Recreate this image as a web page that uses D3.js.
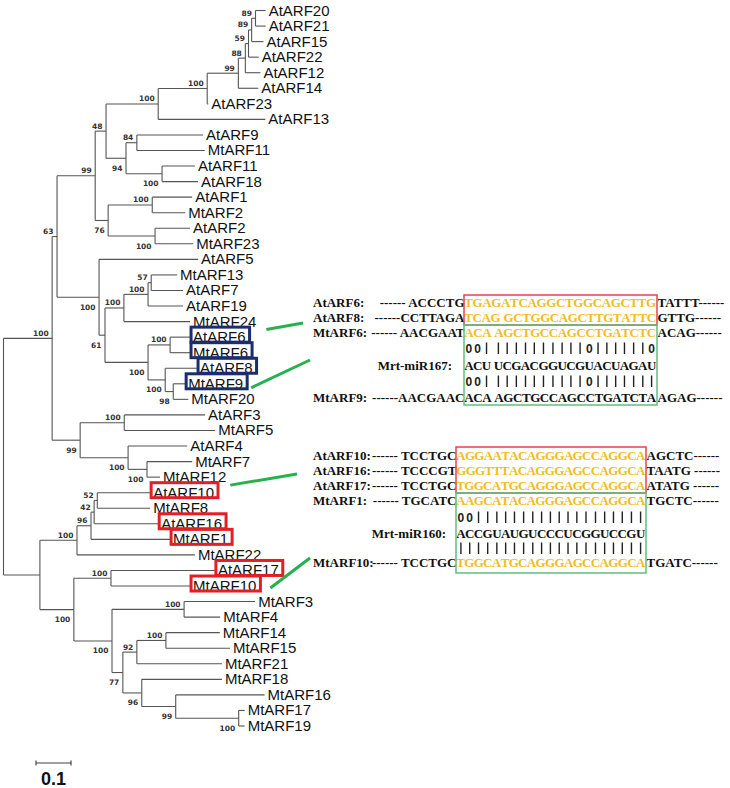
<!DOCTYPE html>
<html><head><meta charset="utf-8">
<script src="https://cdn.jsdelivr.net/npm/d3@7"></script>
<style>
body{margin:0;background:#fff}
.leaf{font-family:"Liberation Sans",Arial,sans-serif;font-size:15px;fill:#111}
.bs{font-family:"DejaVu Sans",sans-serif;font-size:7.5px;font-weight:bold;fill:#333}
.seq{font-family:"Liberation Serif","Times New Roman",serif;font-size:13px;font-weight:bold;fill:#111}
.pr{font-family:"Liberation Sans",Arial,sans-serif;font-size:12px;font-weight:bold;fill:#222}
</style>
</head><body><svg id="c" width="730" height="788"></svg>
<script>
// ---------- tree data (Newick clades: name:branch length, internal label = bootstrap) ----------
const cladeAtARF20 = "(((((((AtARF20:0.029,AtARF21:0.029)89:0.011,AtARF15:0.034)89:0.009,AtARF22:0.029)59:0.009,AtARF12:0.043)88:0.02,AtARF14:0.057)99:0.089,AtARF23:0.003)100:0.14,AtARF13:0.306)100";
const cladeAtARF9 = "((AtARF9:0.189,MtARF11:0.194)84:0.031,(AtARF11:0.094,AtARF18:0.103)100:0.103)94";
const cladeAtARF1 = "((AtARF1:0.114,MtARF2:0.094)100:0.126,(AtARF2:0.1,MtARF23:0.109)100:0.134)76";
const cladeAtARF5 = "(AtARF5:0.283,((((MtARF13:0.074,AtARF7:0.091)57:0.009,AtARF19:0.1)100:0.069,MtARF24:0.189)100:0.054,((AtARF6:0.057,MtARF6:0.057)100:0.063,(AtARF8:0.091,(MtARF9:0.034,MtARF20:0.043)98:0.023)100:0.049)100:0.123)61:0.017)100";
const cladeAtARF3 = "((AtARF3:0.231,MtARF5:0.26)100:0.126,(AtARF4:0.169,(MtARF7:0.129,MtARF12:0.037)100:0.054)100:0.137)99";
const cladeAtARF10 = "((((AtARF10:0.151,MtARF8:0.151)52:0.009,AtARF16:0.183)42:0.009,MtARF1:0.226)96:0.04,MtARF22:0.337)100";
const cladeAtARF17 = "((AtARF17:0.297,MtARF10:0.226)100:0.106,((MtARF3:0.203,MtARF4:0.103)100:0.206,(((MtARF14:0.154,MtARF15:0.183)100:0.083,MtARF21:0.243)92:0.04,(MtARF18:0.229,(MtARF16:0.254,(MtARF17:0.017,MtARF19:0.017)100:0.18)99:0.097)96:0.054)77:0.031)100:0.109)100";
const newick = `(((((${cladeAtARF20}:0.149,${cladeAtARF9}:0.057)48:0.031,${cladeAtARF1}:0.037)99:0.109,${cladeAtARF5}:0.12)63:0.014,${cladeAtARF3}:0.08)100:0.139,(${cladeAtARF10}:0.106,${cladeAtARF17}:0.097):0.104);`;

const scaleBarValue = 0.1;
const blueBoxed = ["AtARF6","MtARF6","AtARF8","MtARF9"];
const redBoxed = ["AtARF10","AtARF16","MtARF1","AtARF17","MtARF10"];
// bootstrap labels drawn below the branch (node = first leaf|last leaf)
const bsBelow = ["AtARF9|AtARF18","AtARF11|AtARF18","AtARF1|MtARF23","AtARF2|MtARF23","AtARF5|MtARF20",
  "MtARF13|MtARF20","AtARF6|MtARF20","AtARF8|MtARF20","MtARF9|MtARF20","AtARF3|MtARF12","AtARF4|MtARF12",
  "MtARF7|MtARF12","AtARF17|MtARF19","MtARF3|MtARF19","MtARF14|MtARF19","MtARF18|MtARF19","MtARF16|MtARF19","MtARF17|MtARF19"];

// ---------- alignment data ----------
const mir167Label = "Mrt-miR167:";
const mir167 = "ACU UCGACGGUCGUACUAGAU";
const mir167Targets = [
  {label:"AtARF6:", left:"------  ACCCTG", core:"TGAGATCAGGCTGGCAGCTTG", right:"TATTT------", hl:true},
  {label:"AtARF8:", left:"------CCTTAGA", core:"TCAG GCTGGCAGCTTGTATTC", right:"GTTG------", hl:true},
  {label:"MtARF6:", left:"------ AACGAAT", core:"ACA AGCTGCCAGCCTGATCTC", right:"ACAG------", hl:true}
];
const mir167PairsUp = "00|||||||||||0||||||0";
const mir167PairsDown = "00|||||||||||0|||||||";
const mir167Below = {label:"MtARF9:", left:"------AACGAAC", core:"ACA AGCTGCCAGCCTGATCTA", right:"AGAG------", hl:false};

const mir160Label = "Mrt-miR160:";
const mir160 = "ACCGUAUGUCCCUCGGUCCGU";
const mir160Targets = [
  {label:"AtARF10:", left:"------ TCCTGC", core:"AGGAATACAGGGAGCCAGGCA", right:"AGCTC------", hl:true},
  {label:"AtARF16:", left:"------ TCCCGT", core:"GGGTTTACAGGGAGCCAGGCA", right:"TAATG ------", hl:true},
  {label:"AtARF17:", left:"------ TCCTGC", core:"TGGCATGCAGGGAGCCAGGCA", right:"ATATG ------", hl:true},
  {label:"MtARF1:", left:"------ TGCATC", core:"AAGCATACAGGGAGCCAGGCA", right:"TGCTC------", hl:true}
];
const mir160PairsUp = "00|||||||||||||||||||";
const mir160PairsDown = "|||||||||||||||||||||";
const mir160Below = {label:"MtARF10:", left:"------ TCCTGC", core:"TGGCATGCAGGGAGCCAGGCA", right:"TGATC------", hl:true};

// ---------- parse ----------
function parseNewick(s){
  let i=0;
  function node(){
    const n={children:[]};
    if(s[i]==='('){
      i++; n.children.push(node());
      while(s[i]===','){i++; n.children.push(node());}
      i++;
    }
    let name='';
    while(i<s.length && !',():;'.includes(s[i])) name+=s[i++];
    if(n.children.length) n.support=name; else n.name=name;
    n.length=0;
    if(s[i]===':'){ i++; let l=''; while(i<s.length && !',();'.includes(s[i])) l+=s[i++]; n.length=+l; }
    return n;
  }
  return node();
}

const svg = d3.select('#c');
const root = d3.hierarchy(parseNewick(newick), d => d.children.length ? d.children : null);
root.eachBefore(d => { d.len = d.parent ? d.parent.len + d.data.length : 0; });
const leaves = root.leaves();
const yS = d3.scaleLinear().domain([0, leaves.length-1]).range([10.5, 726]);
const xS = d3.scaleLinear().domain([0, 0.1]).range([3.5, 38.5]);
leaves.forEach((l,i)=> l.py = yS(i));
root.eachAfter(d => {
  if(d.children) d.py = (d.children[0].py + d.children[d.children.length-1].py)/2;
  d.px = xS(d.len);
});

// branches
const gT = svg.append('g').attr('stroke','#555').attr('stroke-width',1.1).attr('fill','none');
root.descendants().forEach(d => {
  if(d.parent) gT.append('line').attr('x1',d.parent.px).attr('x2',d.px).attr('y1',d.py).attr('y2',d.py);
  if(d.children) gT.append('line').attr('x1',d.px).attr('x2',d.px)
      .attr('y1',d.children[0].py).attr('y2',d.children[d.children.length-1].py);
});

// bootstrap labels
root.descendants().filter(d => d.children && d.data.support).forEach(d => {
  const lv = d.leaves();
  const key = lv[0].data.name + '|' + lv[lv.length-1].data.name;
  const below = bsBelow.includes(key);
  svg.append('text').attr('class','bs').attr('text-anchor','end')
    .attr('x', d.px - 3.5).attr('y', below ? d.py + 12.5 : d.py - 2.5).text(d.data.support);
});

// leaf labels
const leafText = {};
leaves.forEach(d => {
  leafText[d.data.name] = {node:d, el: svg.append('text').attr('class','leaf').attr('x', d.px + 3).attr('y', d.py + 5).text(d.data.name)};
});
function boxLeaf(name, color){
  const t = leafText[name]; const b = t.el.node().getBBox();
  svg.append('rect').attr('x', b.x - 2).attr('y', t.node.py - 10).attr('width', b.width + 6).attr('height', 15)
    .attr('fill','none').attr('stroke',color).attr('stroke-width',3);
}
blueBoxed.forEach(n => boxLeaf(n,'#1c2d6b'));
redBoxed.forEach(n => boxLeaf(n,'#e31e24'));

// scale bar
const sb0 = 36, sb1 = sb0 + (xS(scaleBarValue) - xS(0));
const gS = svg.append('g').attr('stroke','#444').attr('stroke-width',1.2);
gS.append('line').attr('x1',sb0).attr('x2',sb1).attr('y1',763).attr('y2',763);
gS.append('line').attr('x1',sb0).attr('x2',sb0).attr('y1',760.5).attr('y2',765.5);
gS.append('line').attr('x1',sb1).attr('x2',sb1).attr('y1',760.5).attr('y2',765.5);
svg.append('text').attr('x',(sb0+sb1)/2).attr('y',785).attr('text-anchor','middle')
  .style('font-family','"Liberation Sans",Arial,sans-serif').style('font-size','18px').style('font-weight','bold')
  .attr('fill','#111').text(String(scaleBarValue));

// ---------- alignments ----------
const YELLOW = '#f2bd1d';
const meas = svg.append('text').attr('class','seq').attr('x',-100).attr('y',-100);
function charW(ch){ meas.text(ch===' ' ? '\u00a0' : ch); return meas.node().getComputedTextLength(); }
function drawCore(str, x0, width, y, fill){
  const ws = [...str].map(charW); const k = width / d3.sum(ws);
  let x = x0; const centers = [];
  [...str].forEach((ch,i) => {
    const w = ws[i]*k;
    if(ch !== ' '){
      svg.append('text').attr('class','seq').attr('x', x + w/2).attr('y', y + 4.5).attr('text-anchor','middle')
        .style('fill', fill).text(ch);
      centers.push(x + w/2);
    }
    x += w;
  });
  return centers;
}
function drawRow(r, y, labelX, boxL, boxR){
  svg.append('text').attr('class','seq').attr('x',labelX).attr('y',y+4.5).text(r.label);
  svg.append('text').attr('class','seq').attr('x',boxL+0.5).attr('y',y+4.5).attr('text-anchor','end').text(r.left);
  drawCore(r.core, boxL+0.5, boxR-boxL-1.5, y, r.hl ? YELLOW : '#111');
  svg.append('text').attr('class','seq').attr('x',boxR+0.5).attr('y',y+4.5).text(r.right);
}
function drawPairs(pairs, centers, y){
  [...pairs].forEach((p,i) => {
    if(p === '|') svg.append('line').attr('x1',centers[i]).attr('x2',centers[i]).attr('y1',y-5.5).attr('y2',y+6)
        .attr('stroke','#222').attr('stroke-width',1.4);
    else svg.append('text').attr('class','pr').attr('x',centers[i]).attr('y',y+4.5).attr('text-anchor','middle').text(p);
  });
}
function drawBlock(cfg){
  const {targets, mirLabel, mir, pairsUp, pairsDown, below, boxL, boxR, rowsY, pairUpY, mirY, pairDownY, belowY,
         redTop, redBot, greenBot, labelX, mirLabelX} = cfg;
  targets.forEach((r,i) => drawRow(r, rowsY[i], labelX, boxL, boxR));
  svg.append('text').attr('class','seq').attr('x',mirLabelX).attr('y',mirY+4.5).attr('text-anchor','end').text(mirLabel);
  const centers = drawCore(mir, boxL+0.5, boxR-boxL-1.5, mirY, '#111');
  drawPairs(pairsUp, centers, pairUpY);
  drawPairs(pairsDown, centers, pairDownY);
  drawRow(below, belowY, labelX, boxL, boxR);
  svg.append('rect').attr('x',boxL).attr('y',redTop).attr('width',boxR-boxL).attr('height',redBot-redTop)
    .attr('fill','none').attr('stroke','#e8424a').attr('stroke-width',1.5);
  svg.append('rect').attr('x',boxL).attr('y',redBot).attr('width',boxR-boxL).attr('height',greenBot-redBot)
    .attr('fill','none').attr('stroke','#5cc07e').attr('stroke-width',1.5);
}
drawBlock({targets:mir167Targets, mirLabel:mir167Label, mir:mir167, pairsUp:mir167PairsUp, pairsDown:mir167PairsDown,
  below:mir167Below, boxL:464, boxR:657, rowsY:[302,317,332], pairUpY:348, mirY:365, pairDownY:381, belowY:397,
  redTop:295, redBot:325, greenBot:405, labelX:313, mirLabelX:452});
drawBlock({targets:mir160Targets, mirLabel:mir160Label, mir:mir160, pairsUp:mir160PairsUp, pairsDown:mir160PairsDown,
  below:mir160Below, boxL:456, boxR:646, rowsY:[455,470,485,500], pairUpY:517, mirY:533, pairDownY:548, belowY:562,
  redTop:447, redBot:493, greenBot:573, labelX:313, mirLabelX:446});
meas.remove();

// ---------- connectors from tree to alignments ----------
function connector(name, boxed, dx, dy, x2, y2){
  const t = leafText[name]; const b = t.el.node().getBBox();
  const x1 = b.x + b.width + (boxed ? 4 : 0) + dx;
  svg.append('line').attr('x1',x1).attr('y1',t.node.py + dy).attr('x2',x2).attr('y2',y2)
    .attr('stroke','#27b04e').attr('stroke-width',3);
}
connector('MtARF24', false, 10, 8, 303, 323);
connector('MtARF9', true, 4, 4, 310, 360);
connector('MtARF12', false, 4, 8, 297, 474);
connector('MtARF10', true, 10, 2, 310, 558);
</script>
</body></html>
